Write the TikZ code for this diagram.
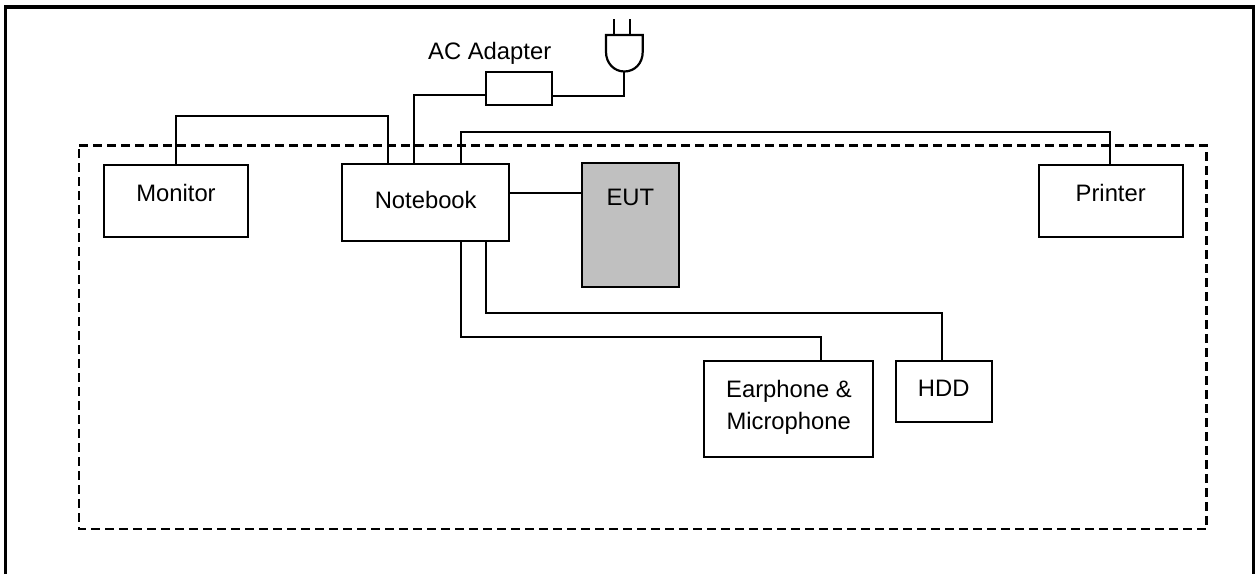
\documentclass[tikz,border=0pt]{standalone}
\usepackage{fontspec}
\setmainfont{Liberation Sans}
\tikzset{
  boxn/.style={draw=black,line width=2.2pt,fill=white,inner sep=0pt,outer sep=0pt},
  eutbox/.style={boxn,fill=eutgray},
  lbl/.style={anchor=base,inner sep=0pt,outer sep=0pt,font=\fontsize{23.8pt}{28pt}\selectfont},
  wire/.style={draw=black,line width=2.2pt,line join=miter},
  framel/.style={draw=black,line width=3.4pt,line join=miter},
  zone/.style={draw=black,line width=2.3pt,dash pattern=on 8.5pt off 5.5pt}
}
\definecolor{eutgray}{HTML}{C0C0C0}
\begin{document}
\begin{tikzpicture}[x=1pt,y=-1pt]
\useasboundingbox[fill=white] (0,0) rectangle (1257,574);
% outer frame, open at the bottom
\draw[framel] (5.5,574) -- (5.5,7) -- (1253.5,7) -- (1253.5,574);
% dashed zone
\draw[zone] (79,145.5) -- (1206.5,145.5) -- (1206.5,529) -- (79,529) -- cycle;
% boxes
\node[boxn,minimum width=144.3pt,minimum height=72pt] (monitor) at (175.85,201) {};
\node[boxn,minimum width=166.7pt,minimum height=77pt] (notebook) at (425.35,202.8) {};
\node[eutbox,minimum width=96.7pt,minimum height=124pt] (eut) at (630.65,224.7) {};
\node[boxn,minimum width=144.3pt,minimum height=72pt] (printer) at (1111.15,201) {};
\node[boxn,minimum width=168.7pt,minimum height=96pt] (earphone) at (788.65,409) {};
\node[boxn,minimum width=96.6pt,minimum height=60.7pt] (hdd) at (944,391.35) {};
\node[boxn,minimum width=66pt,minimum height=33.6pt] (adapter) at (519.3,88.5) {};
% ports
\coordinate (nbMon) at (388,164.3);
\coordinate (nbAc) at (414,164.3);
\coordinate (nbPrn) at (461,164.3);
\coordinate (nbEar) at (461,241.3);
\coordinate (nbHdd) at (486.3,241.3);
\coordinate (nbEut) at (508.7,193);
\coordinate (eutIn) at (582.3,193);
\coordinate (prnIn) at (1109.7,165);
\coordinate (earIn) at (821,361);
\coordinate (hddIn) at (942.3,361);
\coordinate (acL) at (486.3,94.7);
\coordinate (acR) at (552.3,95.7);
\coordinate (plugbot) at (624.3,71.5);
% connectors
\draw[wire] (monitor.north) -- (175.85,116) -- (388,116) -- (nbMon);
\draw[wire] (nbAc) -- (414,94.7) -- (acL);
\draw[wire] (acR) -- (624.3,95.7) -- (plugbot);
\draw[wire] (nbPrn) -- (461,132) -- (1109.7,132) -- (prnIn);
\draw[wire] (nbEut) -- (eutIn);
\draw[wire] (nbEar) -- (461,337.3) -- (821,337.3) -- (earIn);
\draw[wire] (nbHdd) -- (486.3,313.3) -- (942.3,313.3) -- (hddIn);
% plug
\draw[wire] (606,35) -- (642.7,35) -- (642.7,52) .. controls (642.7,63) and (635,71.5) .. (plugbot)
  .. controls (614,71.5) and (606,63) .. (606,52) -- cycle;
\draw[wire] (614.3,19) -- (614.3,35);
\draw[wire] (630.3,19) -- (630.3,35);
% labels
\node[lbl] (tAc) at (489.7,59.3) {AC Adapter};
\node[lbl] (tMon) at (176,201) {Monitor};
\node[lbl] (tNb) at (425.7,208.3) {Notebook};
\node[lbl] (tEut) at (630.3,205.7) {EUT};
\node[lbl] (tPrn) at (1110.7,201) {Printer};
\node[lbl] (tEar) at (789,397.3) {Earphone \&};
\node[lbl] (tMic) at (788.7,429) {Microphone};
\node[lbl] (tHdd) at (943.7,396.7) {HDD};
\end{tikzpicture}
\end{document}
